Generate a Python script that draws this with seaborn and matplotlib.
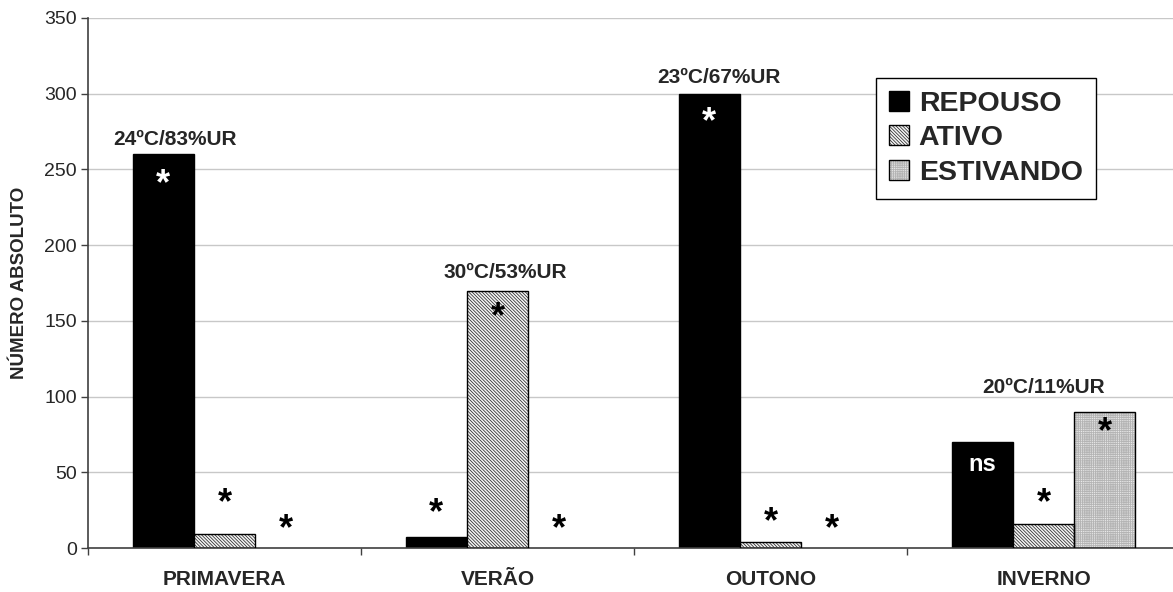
import pandas as pd
import numpy as np
import matplotlib
matplotlib.use("Agg")
import matplotlib.pyplot as plt
import seaborn as sns
from matplotlib.patches import Patch, Rectangle

# Data
seasons = ["PRIMAVERA", "VERÃO", "OUTONO", "INVERNO"]
states = ["REPOUSO", "ATIVO", "ESTIVANDO"]
repouso = [260, 7, 300, 70]
ativo = [9, 170, 4, 16]
estivando = [0, 0, 0, 90]

# climate label per season and where it sits (value, x shift)
climate = ["24ºC/83%UR", "30ºC/53%UR", "23ºC/67%UR", "20ºC/11%UR"]
climate_y = [270, 182, 311, 106]
climate_dx = [-0.18, 0.03, -0.19, 0.0]

# significance marks per season / state, with their heights
marks = [["*", "*", "*"], ["*", "*", "*"], ["*", "*", "*"], ["ns", "*", "*"]]
marks_y = [[240, 29, 12], [23, 152, 12], [281, 17, 12], [55, 29, 76]]

df = pd.DataFrame({
    "season": np.repeat(seasons, 3),
    "state": states * 4,
    "count": [v for trio in zip(repouso, ativo, estivando) for v in trio],
})

sns.set_style("white")
plt.rcParams["font.family"] = ["Liberation Sans", "DejaVu Sans"]
plt.rcParams["hatch.linewidth"] = 0.55

fig = plt.figure(figsize=(11.73, 5.92), dpi=100)
ax = fig.add_axes([0.075, 0.0743, 0.931, 0.8953])

bar_w = 0.672
sns.barplot(data=df, x="season", y="count", hue="state", order=seasons,
            hue_order=states, width=bar_w, ax=ax, legend=False,
            palette=["black", "white", "#d6d6d6"], saturation=1,
            edgecolor="black", linewidth=1.0, errorbar=None)

# (face, hatch, hatch colour) - matplotlib draws the hatch in the edge colour,
# so the black outline is added as a separate rectangle on top
styles = [("black", None, "black"),
          ("#f4f4f4", "\\" * 10, "#2a2a2a"),
          ("#eaeaea", "+" * 9, "#b4b4b4")]
for cont, (fc, hatch, hc) in zip(ax.containers, styles):
    for bar in cont:
        bar.set_facecolor(fc)
        if hatch:
            bar.set_hatch(hatch)
            bar.set_edgecolor(hc)
            bar.set_linewidth(0)
            if bar.get_height() > 0:
                ax.add_patch(Rectangle((bar.get_x(), bar.get_y()),
                                       bar.get_width(), bar.get_height(),
                                       fill=False, edgecolor="black",
                                       linewidth=1.0, zorder=3))

ax.set_ylim(0, 350)
ax.set_xlim(-0.5, 3.5)
ax.set_yticks(np.arange(0, 351, 50))
ax.yaxis.grid(True, color="#c8c8c8", linewidth=1)
ax.set_axisbelow(True)

# category boundaries carry the tick marks, names go on minor ticks
ax.set_xticks([-0.5, 0.5, 1.5, 2.5, 3.5])
ax.set_xticklabels([])
ax.set_xticks(range(4), minor=True)
ax.set_xticklabels(seasons, minor=True, fontsize=15, fontweight="bold")
ax.tick_params(axis="x", which="major", direction="out", length=5, width=1,
               color="#404040", bottom=True)
ax.tick_params(axis="x", which="minor", length=0, pad=16)
ax.tick_params(axis="y", direction="out", length=5, width=1, color="#404040",
               left=True, labelsize=14, pad=3)
ax.set_xlabel("")
ax.set_ylabel("NÚMERO ABSOLUTO", fontsize=13.5, fontweight="bold", labelpad=12)

for side in ["top", "right"]:
    ax.spines[side].set_visible(False)
ax.spines["left"].set_color("#404040")
ax.spines["bottom"].set_color("#404040")
ax.spines["left"].set_linewidth(1.2)
ax.spines["bottom"].set_linewidth(1.2)

step = bar_w / 3
for i in range(4):
    ax.text(i + climate_dx[i], climate_y[i], climate[i], ha="center",
            va="center", fontsize=15, fontweight="bold", zorder=5)
    for j in range(3):
        txt = marks[i][j]
        on_black = j == 0 and repouso[i] > marks_y[i][j]
        color = "white" if on_black else "black"
        size = 26 if txt == "*" else 17
        ax.text(i + (j - 1) * step, marks_y[i][j], txt, ha="center",
                va="center", fontsize=size, fontweight="bold", color=color,
                zorder=5)

handles = []
for fc, hatch, hc in styles:
    fill = Patch(facecolor=fc, edgecolor=hc, hatch=hatch, linewidth=0)
    outline = Patch(facecolor="none", edgecolor="black", linewidth=1.0)
    handles.append((fill, outline))
leg = ax.legend(handles=handles, labels=states, loc="upper left",
                bbox_to_anchor=(0.7216, 0.887), borderaxespad=0,
                prop={"size": 20.5, "weight": "bold"}, handlelength=0.7,
                handleheight=0.7, handletextpad=0.35, labelspacing=0.3,
                borderpad=0.45, fancybox=False, framealpha=1)
leg.get_frame().set_edgecolor("black")
leg.get_frame().set_linewidth(1.0)

fig.savefig("out.png", dpi=100)
